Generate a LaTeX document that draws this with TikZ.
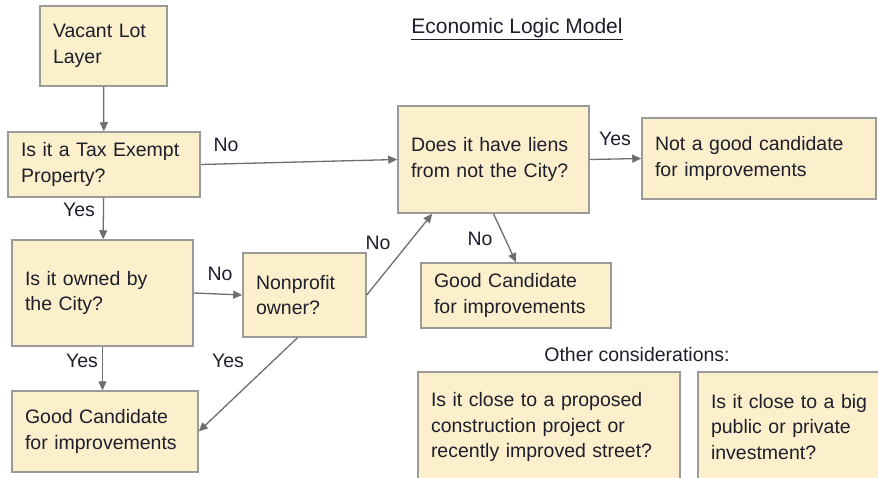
\documentclass[tikz,border=0pt]{standalone}
\usepackage{fontspec}
\setmainfont{Liberation Sans}
\usepackage{xcolor}
\usetikzlibrary{arrows.meta}
\definecolor{boxfill}{HTML}{FCEFCB}
\definecolor{boxline}{HTML}{9A9A9A}
\definecolor{flowgray}{HTML}{6E6E6E}
\definecolor{ink}{HTML}{1E1E2C}

\begin{document}
\begin{tikzpicture}[x=1pt,y=-1pt,
  box/.style={draw=boxline,fill=boxfill,line width=1.5pt,inner xsep=13pt,inner ysep=0pt,align=left,text=ink,font=\fontsize{19.5}{25.5}\selectfont},
  flow/.style={flowgray,line width=1.3pt,-{Triangle[length=9pt,width=8pt]}},
  lbl/.style={text=ink,font=\fontsize{19.5}{24}\selectfont}]
  \path[use as bounding box,fill=white](0,0) rectangle (878,478);
  \clip(0,0) rectangle (878,478);
  \node[lbl,font=\fontsize{21}{24}\selectfont] (title) at(517,29){\underline{Economic Logic Model}};
  \node[box,text width=101pt,minimum height=80pt] (vacant) at(103.5,46){Vacant Lot\\Layer};
  \node[box,text width=166pt,minimum height=65pt] (taxexempt) at(104,164.5){Is it a Tax Exempt\\Property?};
  \node[box,text width=155pt,minimum height=106pt] (cityowned) at(102.5,293){Is it owned by\\the City?};
  \node[box,text width=97pt,minimum height=84pt] (nonprofit) at(304.5,295){Nonprofit\\owner?};
  \node[box,text width=165pt,minimum height=107pt] (liens) at(493.5,159.5){Does it have liens\\from not the City?};
  \node[box,text width=208pt,minimum height=81pt] (notgood) at(759,158.5){Not a good candidate\\for improvements};
  \node[box,text width=164pt,minimum height=65pt] (goodmid) at(516,295.5){Good Candidate\\for improvements};
  \node[box,text width=160pt,minimum height=81pt] (goodleft) at(105,431.5){Good Candidate\\for improvements};
  \node[lbl] (other) at(637,355){Other considerations:};
  \node[box,text width=236pt,minimum height=110pt] (nearproject) at(549,427){Is it close to a proposed\\construction project or\\recently improved street?};
  \node[box,text width=161pt,minimum height=110pt] (nearinvest) at(791.5,427){Is it close to a big\\public or private\\investment?};
  \draw[flow](vacant)--(taxexempt);
  \draw[flow](taxexempt)--(cityowned);
  \draw[flow](taxexempt.east)--(liens.west);
  \draw[flow](cityowned.east)--(nonprofit.west);
  \draw[flow](cityowned.south)--(cityowned.south|-goodleft.north);
  \draw[flow](nonprofit.east)--([xshift=35pt]liens.south west);
  \draw[flow]([xshift=-7pt]nonprofit.south)--(goodleft.east);
  \draw[flow](liens.east)--(notgood.west);
  \draw[flow](liens.south)--(goodmid.north);
  \node[lbl] (yesTax) at(79,210){Yes};
  \node[lbl] (noTax) at(226,145){No};
  \node[lbl] (noCity) at(220,274){No};
  \node[lbl] (yesCity) at(82,361){Yes};
  \node[lbl] (noProfit) at(378,243){No};
  \node[lbl] (yesProfit) at(228,361){Yes};
  \node[lbl] (yesLiens) at(615,139){Yes};
  \node[lbl] (noLiens) at(480,239){No};
\end{tikzpicture}
\end{document}
